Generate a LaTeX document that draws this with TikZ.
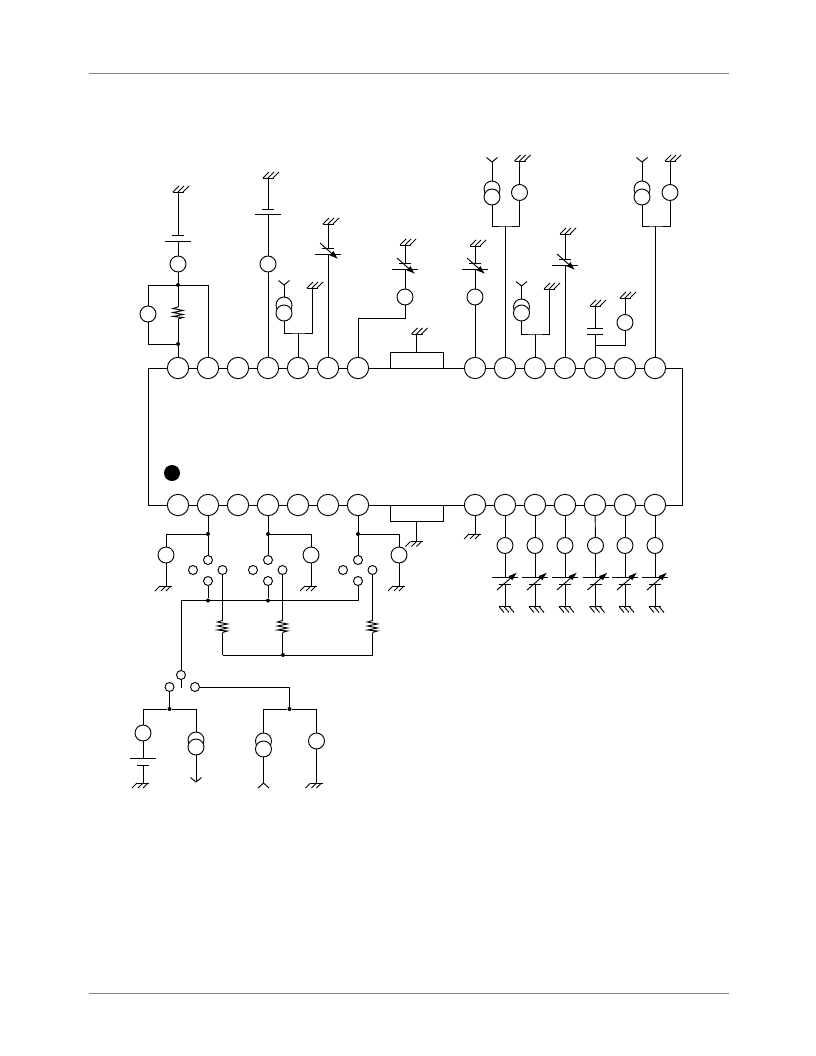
\documentclass[tikz,border=0pt]{standalone}
\usetikzlibrary{arrows.meta}
\tikzset{
  pinbig/.style={circle,draw,fill=white,inner sep=0pt,minimum size=16pt},
  pinmid/.style={circle,draw,fill=white,inner sep=0pt,minimum size=12pt},
  pinsw/.style={circle,draw,fill=white,inner sep=0pt,minimum size=6.75pt},
  jdot/.style={circle,fill=black,inner sep=0pt,minimum size=3pt},
  tabbox/.style={draw,inner sep=0pt,minimum width=39.75pt,minimum height=12pt},
  gndup/.pic={\draw (-5,0) -- (6,0);
    \foreach \t in {-5,0,5} {\draw (\t,0) -- ++(6,-6);}},
  gnddn/.pic={\draw (-6,0) -- (6,0);
    \foreach \t in {-1,5,10} {\draw (\t-5,0) -- ++(-5,5);}},
  gndrt/.pic={\draw (-6,0) -- (6,0);
    \foreach \t in {-6,-1,4} {\draw (\t,0) -- ++(5,6);}},
  yup/.pic={\draw (-5.5,-4.5) -- (0,0) -- (5.5,-4.5);},
  ydn/.pic={\draw (-5.5,5) -- (0,0) -- (5.5,5);},
  platel/.pic={\draw (-13,0) -- (13,0);},
  plates/.pic={\draw (-6,0) -- (6,0);},
  platem/.pic={\draw (-8,0) -- (8,0);},
  arrowdn/.pic={\draw[-{Latex[length=6.5pt,width=4.5pt]}] (-8,-11) -- (10,5);},
  arrowup/.pic={\draw[-{Latex[length=6.5pt,width=4.5pt]}] (-8,13) -- (12,-4.5);},
  resist/.pic={\draw (0,-6) -- (-5,-4.5) -- (5,-2.5) -- (-5,-0.5) -- (5,1.5) -- (-5,3.5) -- (5,4.5) -- (0,6);}
}
\begin{document}
\begin{tikzpicture}[x=0.75pt,y=-0.75pt,line width=0.7pt]
  \useasboundingbox (0,0) rectangle (816,1056);

  % page rules
  \coordinate (ruleTa) at (89,73);
  \coordinate (ruleTb) at (729,73);
  \coordinate (ruleBa) at (89,993);
  \coordinate (ruleBb) at (729,993);
  \draw[gray] (ruleTa) -- (ruleTb);
  \draw[gray] (ruleBa) -- (ruleBb);

  % the package
  \foreach \n/\x in {1/178,2/208,3/238,4/268,5/298,6/328,7/358,8/475,9/505,10/535,11/565,12/595,13/625,14/655} {
    \node[pinbig] (t\n) at (\x,368) {};
    \node[pinbig] (b\n) at (\x,505) {};
  }
  \coordinate (nwc) at (148,368);
  \coordinate (swc) at (148,505);
  \coordinate (nec) at (682,368);
  \coordinate (sec) at (682,505);
  \node[tabbox] (tabT) at (416.5,360) {};
  \node[tabbox] (tabB) at (416.5,513.5) {};
  \node[circle,fill=black,inner sep=0pt,minimum size=12pt] (mark) at (172,473) {};
  \draw (t1) -- (nwc) -- (swc) -- (b1);
  \draw (t14) -- (nec) -- (sec) -- (b14);
  \foreach \a/\b in {1/2,2/3,3/4,4/5,5/6,6/7,7/8,8/9,9/10,10/11,11/12,12/13,13/14} {
    \draw (t\a) -- (t\b);
    \draw (b\a) -- (b\b);
  }
  \coordinate (gT) at (416.5,334);
  \draw (tabT) -- (gT);
  \pic at (gT) {gndup};
  \coordinate (gB) at (416.5,541.5);
  \draw (tabB) -- (gB);
  \pic at (gB) {gnddn};

  % top, pins 1 and 2
  \coordinate (g1) at (178,192);
  \coordinate (p1a) at (178,235);
  \coordinate (p1b) at (178,241);
  \node[pinmid] (c1) at (178,264) {};
  \node[jdot] (j1) at (178,285) {};
  \node[jdot] (j2) at (178,344) {};
  \node[pinmid] (c1s) at (148,314) {};
  \coordinate (r1a) at (178,307);
  \coordinate (r1b) at (178,319);
  \coordinate (w1) at (148,285);
  \coordinate (w2) at (208,285);
  \coordinate (w3) at (148,344);
  \draw (g1) -- (p1a);
  \draw (p1b) -- (c1) -- (j1) -- (r1a);
  \draw (r1b) -- (j2) -- (t1);
  \draw (j1) -- (w1) -- (c1s) -- (w3) -- (j2);
  \draw (j1) -- (w2) -- (t2);
  \pic at (g1) {gndup};
  \pic at (p1a) {plates};
  \pic at (p1b) {platel};
  \pic at (178,313) {resist};

  % top, pin 4
  \coordinate (g4) at (268,178);
  \coordinate (p4a) at (268,209);
  \coordinate (p4b) at (268,214);
  \node[pinmid] (c4) at (268,264) {};
  \draw (g4) -- (p4a);
  \draw (p4b) -- (c4) -- (t4);
  \pic at (g4) {gndup};
  \pic at (p4a) {plates};
  \pic at (p4b) {platel};

  % top, pin 5
  \coordinate (y5) at (284,285);
  \node[pinmid] (d5a) at (284,305) {};
  \node[pinmid] (d5b) at (284,313) {};
  \coordinate (g5) at (312,288);
  \coordinate (w5) at (298,333);
  \draw (y5) -- (d5a);
  \draw (d5b) |- (w5) -| (g5);
  \draw (w5) -- (t5);
  \pic at (y5) {yup};
  \pic at (g5) {gndup};

  % top, pin 6
  \coordinate (g6) at (328,224);
  \coordinate (p6a) at (328,248);
  \coordinate (p6b) at (328,254);
  \draw (g6) -- (p6a);
  \draw (p6b) -- (t6);
  \pic at (g6) {gndup};
  \pic at (p6a) {plates};
  \pic at (p6b) {platel};
  \pic at (p6b) {arrowdn};

  % top, pin 7
  \coordinate (g7) at (405,245);
  \coordinate (p7a) at (405,263);
  \coordinate (p7b) at (405,269);
  \node[pinmid] (c7) at (405,297) {};
  \coordinate (w7) at (405,318);
  \draw (g7) -- (p7a);
  \draw (p7b) -- (c7) -- (w7) -| (t7);
  \pic at (g7) {gndup};
  \pic at (p7a) {plates};
  \pic at (p7b) {platel};
  \pic at (p7b) {arrowdn};

  % top, pin 8
  \coordinate (g8) at (475,246);
  \coordinate (p8a) at (475,263);
  \coordinate (p8b) at (475,269);
  \node[pinmid] (c8) at (475,297) {};
  \draw (g8) -- (p8a);
  \draw (p8b) -- (c8) -- (t8);
  \pic at (g8) {gndup};
  \pic at (p8a) {plates};
  \pic at (p8b) {platel};
  \pic at (p8b) {arrowdn};

  % top, pins 9 and 14
  \foreach \n/\xl/\xm/\xr in {9/492/505/519.5,14/642/655/670} {
    \coordinate (y\n) at (\xl,162);
    \coordinate (g\n) at (\xr,161);
    \node[pinmid] (d\n a) at (\xl,189) {};
    \node[pinmid] (d\n b) at (\xl,197) {};
    \node[pinmid] (c\n) at (\xr,192.5) {};
    \coordinate (w\n) at (\xm,226);
    \draw (y\n) -- (d\n a);
    \draw (g\n) -- (c\n);
    \draw (d\n b) |- (w\n) -| (c\n);
    \draw (w\n) -- (t\n);
    \pic at (y\n) {yup};
    \pic at (g\n) {gndup};
  }

  % top, pin 10
  \coordinate (y10) at (521.5,286);
  \node[pinmid] (d10a) at (521.5,307) {};
  \node[pinmid] (d10b) at (521.5,313) {};
  \coordinate (g10) at (549,289);
  \coordinate (w10) at (535,334);
  \draw (y10) -- (d10a);
  \draw (d10b) |- (w10) -| (g10);
  \draw (w10) -- (t10);
  \pic at (y10) {yup};
  \pic at (g10) {gndup};

  % top, pin 11
  \coordinate (g11) at (565,234);
  \coordinate (p11a) at (565,259);
  \coordinate (p11b) at (565,265);
  \draw (g11) -- (p11a);
  \draw (p11b) -- (t11);
  \pic at (g11) {gndup};
  \pic at (p11a) {plates};
  \pic at (p11b) {platel};
  \pic at (p11b) {arrowdn};

  % top, pin 12
  \coordinate (g12) at (595,306);
  \coordinate (p12a) at (595,328);
  \coordinate (p12b) at (595,334);
  \coordinate (w12) at (595,345);
  \node[pinmid] (c12) at (625,322.5) {};
  \coordinate (g13) at (625,298);
  \draw (g12) -- (p12a);
  \draw (p12b) -- (t12);
  \draw (w12) -| (c12) -- (g13);
  \pic at (g12) {gndup};
  \pic at (g13) {gndup};
  \pic at (p12a) {platem};
  \pic at (p12b) {platem};

  % bottom, switches on pins 2, 4 and 7
  \foreach \n/\x/\xs in {2/208/166,4/268/311,7/358/399} {
    \node[jdot] (sj\n) at (\x,534) {};
    \node[pinmid] (sc\n) at (\xs,555) {};
    \coordinate (sg\n) at (\xs,586);
    \node[pinsw] (sa\n) at (\x,560) {};
    \node[pinsw] (sl\n) at (\x-15,570) {};
    \node[pinsw] (sr\n) at (\x+14.5,570) {};
    \node[pinsw] (sb\n) at (\x,581) {};
    \coordinate (rt\n) at (\x+14.5,620.5);
    \coordinate (rb\n) at (\x+14.5,632.5);
    \coordinate (bot\n) at (\x+14.5,655);
    \draw (b\n) -- (sj\n) -- (sa\n);
    \draw (sj\n) -| (sc\n) -- (sg\n);
    \draw (sr\n) -- (rt\n);
    \draw (rb\n) -- (bot\n);
    \pic at (sg\n) {gnddn};
    \pic at (\x+14.5,626.5) {resist};
  }
  \node[jdot] (sd2) at (208,600.5) {};
  \node[jdot] (sd4) at (268,600.5) {};
  \coordinate (sd7) at (358,600.5);
  \coordinate (sdl) at (181,600.5);
  \draw (sb2) -- (sd2);
  \draw (sb4) -- (sd4);
  \draw (sb7) -- (sd7) -- (sd4) -- (sd2) -- (sdl);
  \node[jdot] (rj) at (283,655) {};
  \draw (bot2) -- (rj) -- (bot7);

  % change-over switch
  \node[pinsw] (mc) at (181,675) {};
  \coordinate (mcb) at (181,688);
  \node[pinsw] (ml) at (169.5,687) {};
  \node[pinsw] (mr) at (195,687) {};
  \draw (sdl) -- (mc) -- (mcb);

  % left branch
  \node[jdot] (lj) at (169.5,709) {};
  \node[pinmid] (lc) at (143,733) {};
  \coordinate (lp1) at (143,758.5);
  \coordinate (lp2) at (143,765);
  \coordinate (lg) at (143,783);
  \node[pinmid] (ld1) at (196,740) {};
  \node[pinmid] (ld2) at (196,747) {};
  \coordinate (la) at (196,782);
  \draw (ml) -- (lj);
  \draw (lj) -| (lc) -- (lp1);
  \draw (lp2) -- (lg);
  \draw (lj) -| (ld1);
  \draw (ld2) -- (la);
  \pic at (lp1) {platel};
  \pic at (lp2) {plates};
  \pic at (lg) {gnddn};
  \pic at (la) {yup};

  % right branch
  \node[jdot] (rjj) at (289.5,709) {};
  \node[pinmid] (rd1) at (263.5,741) {};
  \node[pinmid] (rd2) at (263.5,749) {};
  \node[pinmid] (rc) at (316.5,741) {};
  \coordinate (ry) at (263.5,783);
  \coordinate (rg) at (316.5,783);
  \draw (mr) -| (rjj);
  \draw (rjj) -| (rd1);
  \draw (rjj) -| (rc) -- (rg);
  \draw (rd2) -- (ry);
  \pic at (ry) {ydn};
  \pic at (rg) {gnddn};

  % bottom, pin 8
  \coordinate (g8b) at (475,534);
  \draw (b8) -- (g8b);
  \pic at (g8b) {gnddn};

  % bottom, pins 9 to 14
  \foreach \n/\x in {9/505,10/535,11/565,12/595.5,13/625,14/655} {
    \node[pinmid] (v\n) at (\x,545.5) {};
    \coordinate (vp\n) at (\x,577);
    \coordinate (vq\n) at (\x,584);
    \coordinate (vg\n) at (\x,606.5);
    \draw (b\n) -- (v\n) -- (vp\n);
    \draw (vq\n) -- (vg\n);
    \pic at (vp\n) {platel};
    \pic at (vq\n) {plates};
    \pic at (vp\n) {arrowup};
    \pic at (vg\n) {gndrt};
  }
\end{tikzpicture}
\end{document}
